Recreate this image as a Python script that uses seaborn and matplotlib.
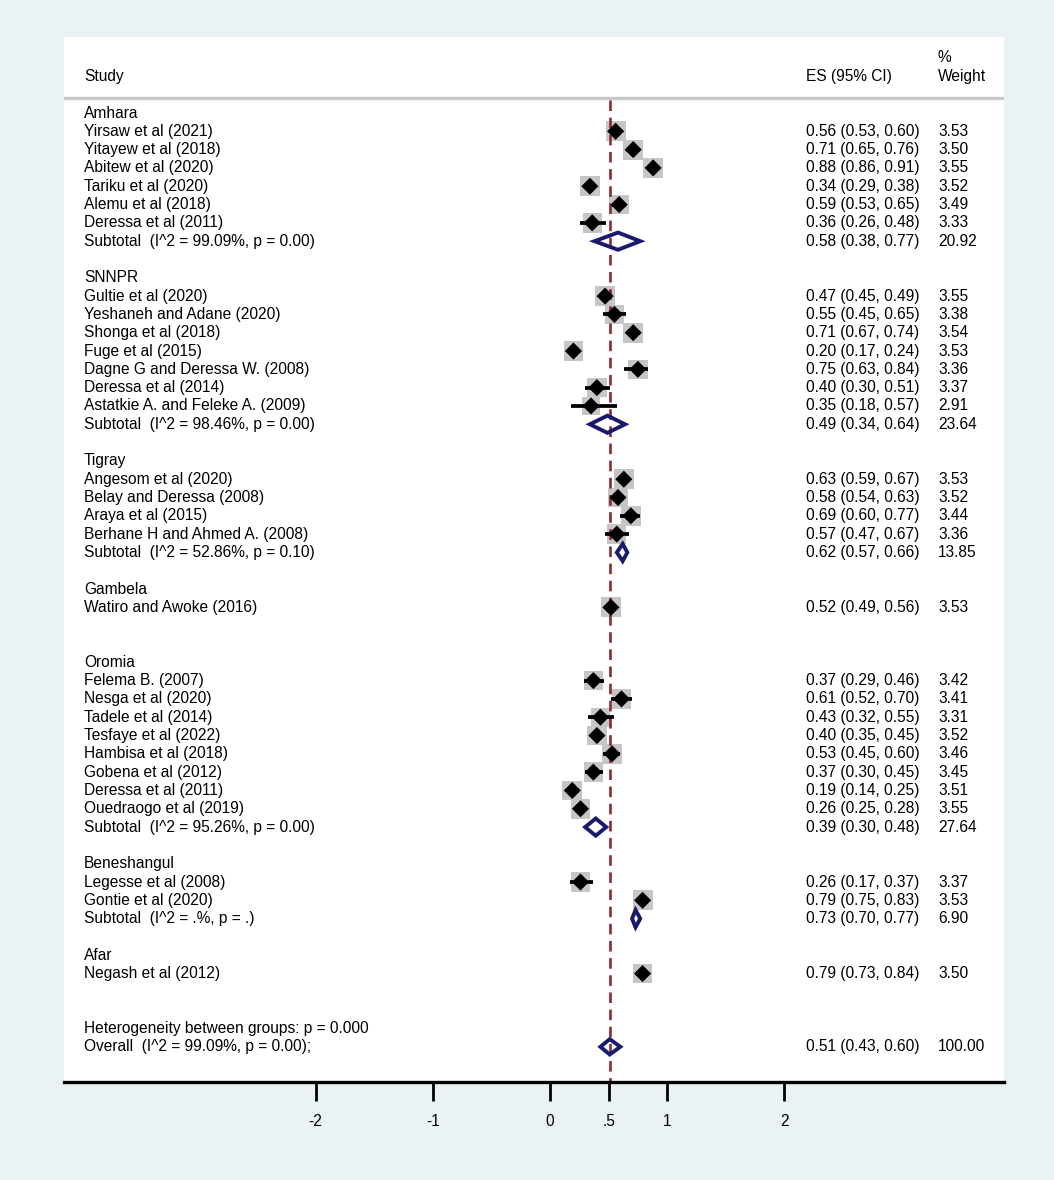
import matplotlib
matplotlib.use("Agg")
import matplotlib.pyplot as plt
import matplotlib.transforms as mtransforms
import numpy as np
import pandas as pd
import seaborn as sns

# region of every study, in display order
groups = ["Amhara", "SNNPR", "Tigray", "Gambela", "Oromia", "Beneshangul", "Afar"]

study = [
    "Yirsaw et al (2021)", "Yitayew et al (2018)", "Abitew et al (2020)",
    "Tariku et al (2020)", "Alemu et al (2018)", "Deressa et al (2011)",
    "Gultie et al (2020)", "Yeshaneh and Adane (2020)", "Shonga et al (2018)",
    "Fuge et al (2015)", "Dagne G and Deressa W. (2008)", "Deressa et al (2014)",
    "Astatkie A. and Feleke A. (2009)",
    "Angesom et al (2020)", "Belay and Deressa (2008)", "Araya et al (2015)",
    "Berhane H and Ahmed A. (2008)",
    "Watiro and Awoke (2016)",
    "Felema B. (2007)", "Nesga et al (2020)", "Tadele et al (2014)",
    "Tesfaye et al (2022)", "Hambisa et al (2018)", "Gobena et al (2012)",
    "Deressa et al (2011)", "Ouedraogo et al (2019)",
    "Legesse et al (2008)", "Gontie et al (2020)",
    "Negash et al (2012)",
]
region = (["Amhara"] * 6 + ["SNNPR"] * 7 + ["Tigray"] * 4 + ["Gambela"]
          + ["Oromia"] * 8 + ["Beneshangul"] * 2 + ["Afar"])
es = [0.56, 0.71, 0.88, 0.34, 0.59, 0.36,
      0.47, 0.55, 0.71, 0.20, 0.75, 0.40, 0.35,
      0.63, 0.58, 0.69, 0.57,
      0.52,
      0.37, 0.61, 0.43, 0.40, 0.53, 0.37, 0.19, 0.26,
      0.26, 0.79,
      0.79]
lo = [0.53, 0.65, 0.86, 0.29, 0.53, 0.26,
      0.45, 0.45, 0.67, 0.17, 0.63, 0.30, 0.18,
      0.59, 0.54, 0.60, 0.47,
      0.49,
      0.29, 0.52, 0.32, 0.35, 0.45, 0.30, 0.14, 0.25,
      0.17, 0.75,
      0.73]
hi = [0.60, 0.76, 0.91, 0.38, 0.65, 0.48,
      0.49, 0.65, 0.74, 0.24, 0.84, 0.51, 0.57,
      0.67, 0.63, 0.77, 0.67,
      0.56,
      0.46, 0.70, 0.55, 0.45, 0.60, 0.45, 0.25, 0.28,
      0.37, 0.83,
      0.84]
weight = [3.53, 3.50, 3.55, 3.52, 3.49, 3.33,
          3.55, 3.38, 3.54, 3.53, 3.36, 3.37, 2.91,
          3.53, 3.52, 3.44, 3.36,
          3.53,
          3.42, 3.41, 3.31, 3.52, 3.46, 3.45, 3.51, 3.55,
          3.37, 3.53,
          3.50]

# subtotals (only for regions with more than one study)
sub_group = ["Amhara", "SNNPR", "Tigray", "Oromia", "Beneshangul"]
sub_label = ["Subtotal  (I^2 = 99.09%, p = 0.00)", "Subtotal  (I^2 = 98.46%, p = 0.00)",
             "Subtotal  (I^2 = 52.86%, p = 0.10)", "Subtotal  (I^2 = 95.26%, p = 0.00)",
             "Subtotal  (I^2 = .%, p = .)"]
sub_es = [0.58, 0.49, 0.62, 0.39, 0.73]
sub_lo = [0.38, 0.34, 0.57, 0.30, 0.70]
sub_hi = [0.77, 0.64, 0.66, 0.48, 0.77]
sub_weight = [20.92, 23.64, 13.85, 27.64, 6.90]

overall_label = "Overall  (I^2 = 99.09%, p = 0.00);"
het_label = "Heterogeneity between groups: p = 0.000"
overall_es, overall_lo, overall_hi, overall_weight = 0.51, 0.43, 0.60, 100.00

xticks = [-2, -1, 0, 0.5, 1, 2]
xtick_labels = ["-2", "-1", "0", ".5", "1", "2"]

# ---- row layout ----
df = pd.DataFrame({"study": study, "region": region, "es": es, "lo": lo,
                   "hi": hi, "weight": weight})
df["row"] = 0
header_rows = {}
sub_rows = {}
r = 0
for g in groups:
    header_rows[g] = r
    r += 1
    for i in df.index[df["region"] == g]:
        df.loc[i, "row"] = r
        r += 1
    sub_rows[g] = r
    r += 2
het_row = r
overall_row = r + 1

sns.set_style("white")
plt.rcParams["font.family"] = ["Liberation Sans", "DejaVu Sans"]
plt.rcParams["text.color"] = "black"
plt.rcParams["xtick.color"] = "black"

W, H = 1054, 1180
fig = plt.figure(figsize=(W / 100, H / 100), dpi=100, facecolor="#eaf2f3")
ax = fig.add_axes([64 / W, (H - 1082) / H, 940 / W, (1082 - 37) / H])
ax.set_facecolor("white")

px_unit = 117.2
ax.set_xlim((64 - 550) / px_unit, (1004 - 550) / px_unit)
row_px = 18.31
ax.set_ylim((1082 - 113) / row_px, (37 - 113) / row_px)

fs = 11.2
navy = "#1a1a6b"

# weight squares
sns.scatterplot(data=df, x="es", y="row", size="weight", sizes=(58 * 2.91, 58 * 3.55),
                size_norm=(2.91, 3.55), marker="s", color="#c6c6c6", edgecolor="none",
                legend=False, ax=ax, zorder=1)
# pooled effect reference line
ax.vlines(overall_es, -0.7, (1082 - 113) / row_px, colors="#8b2a35",
          linestyles=(0, (4, 2.5)), lw=1.9, zorder=2)
# confidence intervals
ax.hlines(df["row"], df["lo"], df["hi"], colors="black", lw=2.7, zorder=3)
sns.scatterplot(data=df, x="es", y="row", marker="D", s=76, color="black",
                edgecolor="none", legend=False, ax=ax, zorder=4)

def diamond(e, l, h, y, hh=0.47):
    ax.fill([l, e, h, e, l], [y, y - hh, y, y + hh, y], facecolor="none",
            edgecolor=navy, lw=2.8, joinstyle="miter", zorder=5)

trans = mtransforms.blended_transform_factory(fig.transFigure, ax.transData)
x_name, x_es, x_w = 84 / W, 806 / W, 938 / W

def row_text(y, label, e=None, l=None, h=None, w=None):
    ax.text(x_name, y, label, transform=trans, fontsize=fs, va="center")
    if e is not None:
        ax.text(x_es, y, f"{e:.2f} ({l:.2f}, {h:.2f})", transform=trans,
                fontsize=fs, va="center")
        ax.text(x_w, y, f"{w:.2f}", transform=trans, fontsize=fs, va="center")

for g in groups:
    row_text(header_rows[g], g)
for _, d in df.iterrows():
    row_text(d["row"], d["study"], d["es"], d["lo"], d["hi"], d["weight"])
for g, lab, e, l, h, w in zip(sub_group, sub_label, sub_es, sub_lo, sub_hi, sub_weight):
    diamond(e, l, h, sub_rows[g])
    row_text(sub_rows[g], lab, e, l, h, w)

row_text(het_row, het_label)
row_text(overall_row, overall_label, overall_es, overall_lo, overall_hi, overall_weight)
diamond(overall_es, overall_lo, overall_hi, overall_row, hh=0.42)

# headers
ax.text(x_name, -2, "Study", transform=trans, fontsize=fs, va="center")
ax.text(x_es, -2, "ES (95% CI)", transform=trans, fontsize=fs, va="center")
ax.text(x_w, -2, "Weight", transform=trans, fontsize=fs, va="center")
ax.text(x_w, -3.05, "%", transform=trans, fontsize=fs, va="center")
ax.axhline(-0.82, color="#c8c8c8", lw=2.4, zorder=1)

# axis styling
for s in ["top", "left", "right"]:
    ax.spines[s].set_visible(False)
ax.spines["bottom"].set_color("black")
ax.spines["bottom"].set_linewidth(2.4)
ax.set_yticks([])
ax.set_xticks(xticks)
ax.set_xticklabels(xtick_labels, fontsize=fs)
ax.tick_params(axis="x", direction="out", length=14, width=2.0, color="black",
               labelcolor="black", pad=9, bottom=True)
ax.set_xlabel("")
ax.set_ylabel("")

fig.savefig("out.png", dpi=100, facecolor=fig.get_facecolor())
